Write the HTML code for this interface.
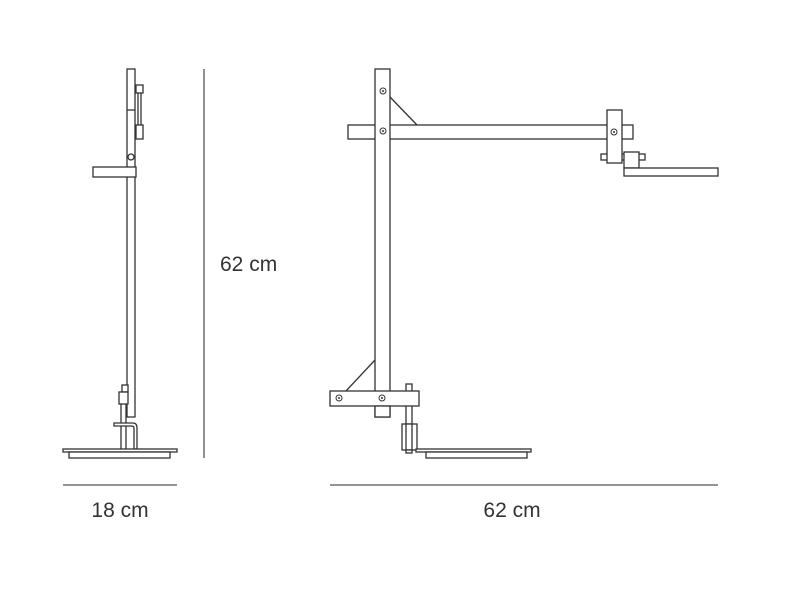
<!DOCTYPE html>
<html><head><style>
body{margin:0;background:#fff;width:800px;height:600px;overflow:hidden}
svg{display:block}
text{font-family:"Liberation Sans",sans-serif;font-size:21px;fill:#333}
</style></head><body>
<svg width="800" height="600" viewBox="0 0 800 600" xmlns="http://www.w3.org/2000/svg">
<g fill="#fff" stroke="#333" stroke-width="1.3">
<!-- side view -->
<rect x="127" y="69" width="8" height="348"/>
<line x1="127" y1="110" x2="135" y2="110"/>
<rect x="136" y="85" width="7" height="8"/>
<line x1="138" y1="93" x2="138" y2="125"/><line x1="141" y1="93" x2="141" y2="125"/>
<rect x="136" y="125" width="7" height="14"/>
<circle cx="131" cy="157" r="3"/>
<rect x="93" y="167" width="43" height="10"/>
<rect x="122" y="385" width="6" height="7"/>
<rect x="119" y="392" width="9" height="12"/>
<line x1="121" y1="404" x2="121" y2="449"/><line x1="126" y1="404" x2="126" y2="449"/>
<path d="M114 423 H133 Q137 423 137 428 V449 H134 V428 Q134 426 131 426 H114 Z"/>
<rect x="63" y="449" width="114" height="3"/>
<rect x="69" y="452" width="101" height="6"/>
<!-- front view -->
<rect x="348" y="125" width="285" height="14"/>
<rect x="375" y="69" width="15" height="348"/>
<line x1="390" y1="97" x2="417" y2="125"/>
<rect x="601" y="154" width="24" height="6"/>
<rect x="635" y="154" width="10" height="6"/>
<rect x="607" y="110" width="15" height="53"/>
<rect x="624" y="152" width="15" height="16"/>
<rect x="624" y="168" width="94" height="8"/>
<line x1="346" y1="391" x2="375" y2="360"/>
<rect x="406" y="384" width="6" height="40"/>
<rect x="330" y="391" width="89" height="15"/>
<rect x="375" y="406" width="15" height="11"/>
<rect x="402" y="424" width="15" height="26"/>
<line x1="406" y1="424" x2="406" y2="450"/><line x1="412" y1="424" x2="412" y2="450"/>
<rect x="406" y="450" width="6" height="3"/>
<rect x="416" y="449" width="115" height="3"/>
<rect x="426" y="452" width="101" height="6"/>
<g stroke-width="1"><circle cx="383" cy="91" r="3"/><circle cx="383" cy="131" r="3"/><circle cx="614" cy="132" r="3"/><circle cx="339" cy="398" r="3"/><circle cx="382" cy="398" r="3"/></g>
</g>
<g fill="#333"><circle cx="383" cy="91" r="1"/><circle cx="383" cy="131" r="1"/><circle cx="614" cy="132" r="1"/><circle cx="339" cy="398" r="1"/><circle cx="382" cy="398" r="1"/></g>
<g stroke="#555" stroke-width="1.3">
<line x1="204" y1="69" x2="204" y2="458"/>
<line x1="63" y1="485" x2="177" y2="485"/>
<line x1="330" y1="485" x2="718" y2="485"/>
</g>
<text x="220" y="271">62 cm</text>
<text x="120" y="517" text-anchor="middle">18 cm</text>
<text x="512" y="517" text-anchor="middle">62 cm</text>
</svg>
</body></html>
